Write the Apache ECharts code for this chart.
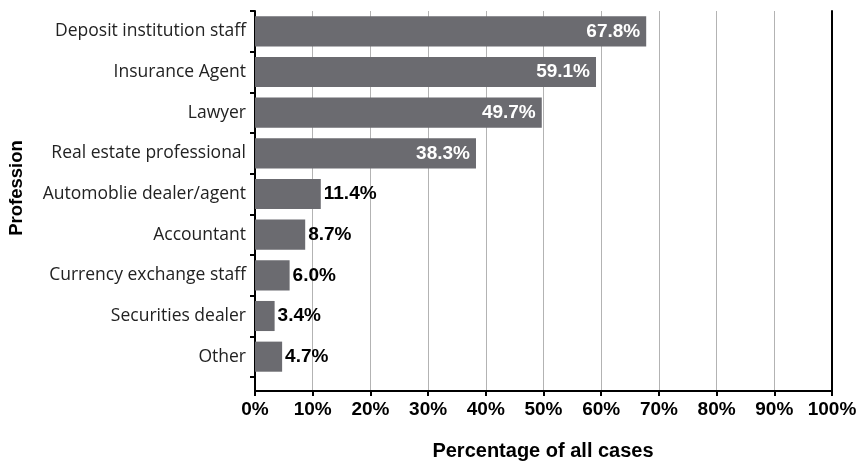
<!DOCTYPE html>
<html>
<head>
<meta charset="utf-8">
<script src="https://cdn.jsdelivr.net/npm/echarts@6/dist/echarts.min.js"></script>
<style>
html,body{margin:0;padding:0;background:#fff;}
#main{width:861px;height:463px;}
</style>
</head>
<body>
<div id="main"></div>
<script>
var categories = ["Deposit institution staff","Insurance Agent","Lawyer","Real estate professional","Automoblie dealer/agent","Accountant","Currency exchange staff","Securities dealer","Other"];
var values = [67.8, 59.1, 49.7, 38.3, 11.4, 8.7, 6.0, 3.4, 4.7];
var xTicks = [0, 10, 20, 30, 40, 50, 60, 70, 80, 90, 100];
var xTitle = "Percentage of all cases";
var yTitle = "Profession";
var insideThreshold = 30;

var chart = echarts.init(document.getElementById('main'), null, {renderer:'canvas'});
var boldFont = '"Liberation Sans", Arial, sans-serif';

var barData = values.map(function(v){
  var inside = v >= insideThreshold;
  return {
    value: v,
    label: inside ? {position:'insideRight', color:'#ffffff', distance:6} : {position:'right', color:'#000000', distance:3}
  };
});

var option = {
  animation:false,
  grid:[
    {left:255, right:29, top:11, bottom:86},
    {left:255, right:29, top:11, bottom:72}
  ],
  xAxis:[
    {gridIndex:0, type:'value', min:xTicks[0], max:xTicks[xTicks.length-1], interval:10, show:false},
    {gridIndex:1, type:'value', min:xTicks[0], max:xTicks[xTicks.length-1], interval:10,
     axisLine:{show:true, lineStyle:{color:'#000', width:2}},
     axisTick:{show:true, length:5, lineStyle:{color:'#000', width:2}},
     axisLabel:{show:true, margin:9, fontFamily:boldFont, fontWeight:'bold', fontSize:19, color:'#000', formatter:function(v){return v+'%';}},
     splitLine:{show:true, lineStyle:{color:'#b3b3b3', width:1}}
    }
  ],
  yAxis:[
    {gridIndex:0, type:'category', data:categories, inverse:true,
     axisLine:{show:false},
     axisTick:{show:true, length:5, lineStyle:{color:'#000', width:2}},
     axisLabel:{margin:9, fontFamily:'"Open Sans", sans-serif', fontSize:17.5, color:'#222'},
     splitLine:{show:false}
    },
    {gridIndex:1, type:'value', min:0, max:1, position:'left',
     axisLine:{show:true, lineStyle:{color:'#000', width:2}},
     axisTick:{show:false}, axisLabel:{show:false}, splitLine:{show:false}
    },
    {gridIndex:1, type:'value', min:0, max:1, position:'right',
     axisLine:{show:true, lineStyle:{color:'#000', width:2}},
     axisTick:{show:false}, axisLabel:{show:false}, splitLine:{show:false}
    }
  ],
  graphic:[
    {type:'text', x:543, y:451, style:{text:xTitle, font:'bold 20px "Liberation Sans", Arial, sans-serif', fill:'#000', align:'center', verticalAlign:'middle'}},
    {type:'text', x:17, y:188, rotation:Math.PI/2, style:{text:yTitle, font:'bold 18.5px "Liberation Sans", Arial, sans-serif', fill:'#000', align:'center', verticalAlign:'middle'}}
  ],
  series:[
    {type:'bar', xAxisIndex:0, yAxisIndex:0, data:barData, barCategoryGap:'26%',
     itemStyle:{color:'#6b6b70'},
     label:{show:true, fontFamily:boldFont, fontWeight:'bold', fontSize:19, formatter:function(p){return p.value.toFixed(1)+'%';}},
     z:5
    }
  ]
};
chart.setOption(option);
</script>
</body>
</html>
